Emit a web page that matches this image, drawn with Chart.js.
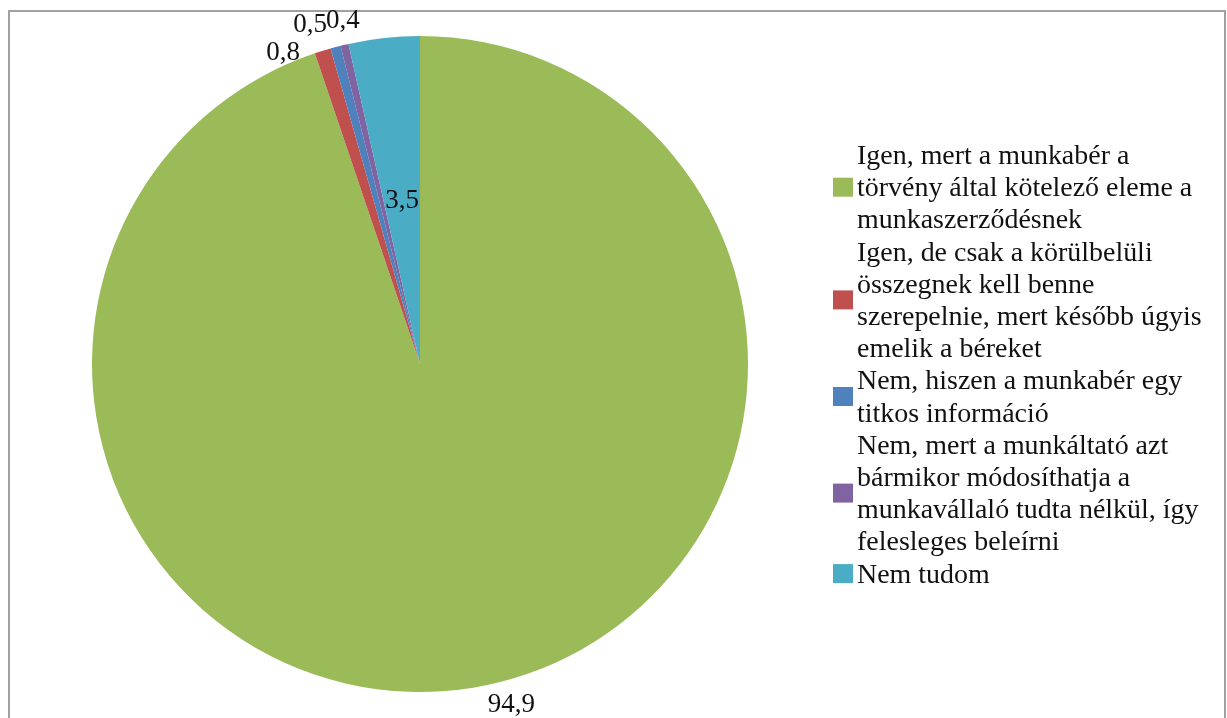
<!DOCTYPE html>
<html>
<head>
<meta charset="utf-8">
<script src="https://cdn.jsdelivr.net/npm/chart.js@4"></script>
<style>
  html, body { margin: 0; padding: 0; background: #fff; }
  #wrap { position: relative; width: 1227px; height: 718px; }
</style>
</head>
<body>
<div id="wrap"><canvas id="pieChart" width="1227" height="718"></canvas></div>
<script>
// answer categories (legend text, one entry per line)
const categories = [
  ["Igen, mert a munkabér a", "törvény által kötelező eleme a", "munkaszerződésnek"],
  ["Igen, de csak a körülbelüli", "összegnek kell benne", "szerepelnie, mert később úgyis", "emelik a béreket"],
  ["Nem, hiszen a munkabér egy", "titkos információ"],
  ["Nem, mert a munkáltató azt", "bármikor módosíthatja a", "munkavállaló tudta nélkül, így", "felesleges beleírni"],
  ["Nem tudom"],
];
const percentages = [94.9, 0.8, 0.5, 0.4, 3.5];
const sliceColors = ["#9BBB59", "#C0504D", "#4F81BD", "#8064A2", "#4BACC6"];

const FONT = "27px 'Liberation Serif', 'Times New Roman', serif";

// label placement: which labels sit inside the slice, and small nudges for the outside ones
const labelInside = [false, false, false, false, true];
const labelNudge = [[34, -7], [-32, 26], [-19, 2], [4, 0], [0, 0]];

function fmt(v) {
  return v.toFixed(1).replace(".", ",");
}

// chart frame
const framePlugin = {
  id: "frame",
  beforeDraw(chart) {
    const ctx = chart.ctx;
    ctx.save();
    ctx.strokeStyle = "#a0a0a0";
    ctx.lineWidth = 2;
    ctx.strokeRect(9, 11, 1216, 760);
    ctx.restore();
  },
};

// value labels
const valueLabels = {
  id: "valueLabels",
  afterDatasetsDraw(chart) {
    const ctx = chart.ctx;
    const meta = chart.getDatasetMeta(0);
    ctx.save();
    ctx.font = FONT;
    ctx.fillStyle = "#111";
    ctx.textAlign = "center";
    ctx.textBaseline = "middle";
    meta.data.forEach((arc, i) => {
      let x, y;
      if (labelInside[i]) {
        const p = arc.tooltipPosition();
        x = p.x;
        y = p.y;
      } else {
        const mid = (arc.startAngle + arc.endAngle) / 2;
        const d = arc.outerRadius + 25;
        x = arc.x + Math.cos(mid) * d;
        y = arc.y + Math.sin(mid) * d;
      }
      x += labelNudge[i][0];
      y += labelNudge[i][1];
      ctx.fillText(fmt(percentages[i]), x, y);
    });
    ctx.restore();
  },
};

// legend on the right, with wrapped lines
const sideLegend = {
  id: "sideLegend",
  afterDraw(chart) {
    const ctx = chart.ctx;
    const lineH = 32.2;
    const stretch = 1.035;
    let baseline = 164;
    ctx.save();
    ctx.font = FONT;
    ctx.textAlign = "left";
    ctx.textBaseline = "alphabetic";
    chart.data.labels.forEach((lines, i) => {
      const first = baseline;
      const last = baseline + (lines.length - 1) * lineH;
      const boxMid = (first + last) / 2 - 9;
      ctx.fillStyle = sliceColors[i];
      ctx.fillRect(833, boxMid - 9.5, 20, 19);
      ctx.fillStyle = "#111";
      lines.forEach((t, j) => {
        ctx.save();
        ctx.translate(857, baseline + j * lineH);
        ctx.scale(stretch, 1);
        ctx.fillText(t, 0, 0);
        ctx.restore();
      });
      baseline += lines.length * lineH;
    });
    ctx.restore();
  },
};

const ctx = document.getElementById("pieChart").getContext("2d");
new Chart(ctx, {
  type: "pie",
  data: {
    labels: categories,
    datasets: [
      {
        data: percentages,
        backgroundColor: sliceColors,
        borderWidth: 0,
      },
    ],
  },
  options: {
    responsive: false,
    animation: false,
    layout: {
      padding: { left: 92, top: 36, right: 479, bottom: 26 },
    },
    plugins: {
      legend: { display: false },
      tooltip: { enabled: false },
    },
  },
  plugins: [framePlugin, valueLabels, sideLegend],
});
</script>
</body>
</html>
